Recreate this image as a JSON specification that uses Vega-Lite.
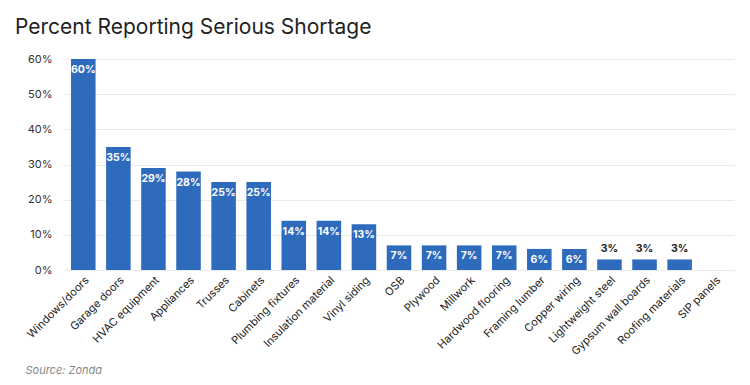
{
  "$schema": "https://vega.github.io/schema/vega-lite/v6.json",
  "autosize": {"type": "none"},
  "width": 670,
  "height": 211,
  "padding": {"left": 64, "top": 59, "right": 16, "bottom": 115},
  "background": "white",
  "config": {"font": "Inter", "view": {"stroke": null}},
  "title": {
    "text": "Percent Reporting Serious Shortage",
    "anchor": "start",
    "frame": "group",
    "dx": -49,
    "offset": 15,
    "fontSize": 21,
    "fontWeight": "normal",
    "color": "#222222",
    "font": "Inter"
  },
  "data": {
    "values": [
      {"item": "Windows/doors", "value": 0.60},
      {"item": "Garage doors", "value": 0.35},
      {"item": "HVAC equipment", "value": 0.29},
      {"item": "Appliances", "value": 0.28},
      {"item": "Trusses", "value": 0.25},
      {"item": "Cabinets", "value": 0.25},
      {"item": "Plumbing fixtures", "value": 0.14},
      {"item": "Insulation material", "value": 0.14},
      {"item": "Vinyl siding", "value": 0.13},
      {"item": "OSB", "value": 0.07},
      {"item": "Plywood", "value": 0.07},
      {"item": "Millwork", "value": 0.07},
      {"item": "Hardwood flooring", "value": 0.07},
      {"item": "Framing lumber", "value": 0.06},
      {"item": "Copper wiring", "value": 0.06},
      {"item": "Lightweight steel", "value": 0.03},
      {"item": "Gypsum wall boards", "value": 0.03},
      {"item": "Roofing materials", "value": 0.03},
      {"item": "SIP panels", "value": 0}
    ]
  },
  "encoding": {
    "x": {
      "field": "item",
      "type": "nominal",
      "sort": null,
      "scale": {"paddingInner": 0.3, "paddingOuter": 0.2},
      "axis": {
        "title": "Source: Zonda",
        "titleAnchor": "start",
        "titleAlign": "left",
        "titleX": -39,
        "titleY": 103,
        "titleBaseline": "alphabetic",
        "titleFontStyle": "italic",
        "titleFontWeight": "normal",
        "titleFontSize": 11,
        "titleColor": "#888888",
        "labelAngle": -45,
        "labelAlign": "right",
        "labelBaseline": "top",
        "labelFontSize": 11,
        "labelColor": "#222222",
        "labelPadding": 4,
        "ticks": false,
        "domain": false,
        "grid": false
      }
    },
    "y": {
      "field": "value",
      "type": "quantitative",
      "scale": {"domain": [0, 0.6], "nice": false},
      "axis": {
        "title": null,
        "format": ".0%",
        "values": [0, 0.1, 0.2, 0.3, 0.4, 0.5, 0.6],
        "labelFontSize": 11,
        "labelColor": "#333333",
        "labelPadding": 12,
        "ticks": false,
        "domain": false,
        "grid": true,
        "gridColor": "#ebebeb",
        "gridWidth": 1
      }
    }
  },
  "layer": [
    {"mark": {"type": "bar", "color": "#2f6bbd"}},
    {
      "transform": [{"filter": "datum.value >= 0.05"}],
      "mark": {"type": "text", "baseline": "top", "dy": 6, "color": "white", "fontWeight": "bold", "fontSize": 10.5},
      "encoding": {"text": {"field": "value", "format": ".0%"}}
    },
    {
      "transform": [{"filter": "datum.value > 0 && datum.value < 0.05"}],
      "mark": {"type": "text", "baseline": "bottom", "dy": -5, "color": "#222222", "fontWeight": "bold", "fontSize": 10.5},
      "encoding": {"text": {"field": "value", "format": ".0%"}}
    }
  ]
}
